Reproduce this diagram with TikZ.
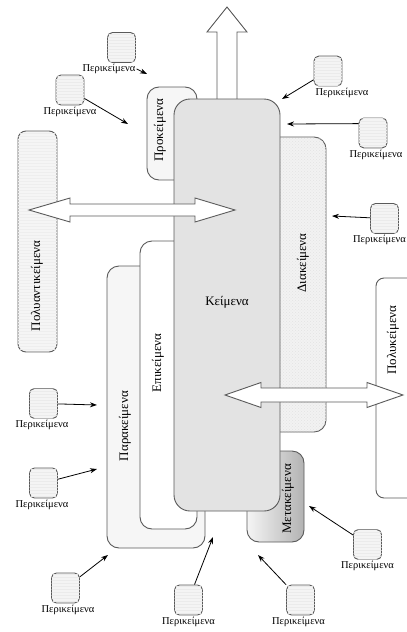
\documentclass[tikz,border=0pt]{standalone}
\usepackage{fontspec}
\setmainfont{Liberation Serif}
\usetikzlibrary{arrows.meta, positioning, patterns}

\definecolor{edge}{HTML}{5A5A5A}
\definecolor{keimfill}{HTML}{E3E3E3}
\definecolor{lightfill}{HTML}{F6F6F6}

\tikzstyle{layer} = [rectangle, rounded corners=12pt, draw=edge, line width=0.9pt, inner sep=0pt]
\tikzstyle{peri} = [rectangle, rounded corners=5pt, minimum width=28pt, minimum height=30pt, draw=edge, line width=0.9pt, fill=gray!9, postaction={pattern=horizontal lines, pattern color=gray!16}]
\tikzstyle{perilabel} = [font=\fontsize{10.5}{12}\selectfont, inner sep=1pt]
\tikzstyle{bigtext} = [font=\fontsize{13}{15}\selectfont]
\tikzstyle{sidetext} = [rotate=90, font=\fontsize{13}{15}\selectfont]
\tikzstyle{arrow} = [thick, -{Stealth[length=7pt, width=5pt]}]
\tikzstyle{blockarrow} = [draw=edge, fill=white, line width=0.9pt, line join=miter]

\begin{document}
\begin{tikzpicture}[x=1pt, y=-1pt]
	\clip (0,0) rectangle (407,632);
	% layers round the text
	\node (para) [layer, fill=lightfill, minimum width=98pt, minimum height=282pt] at (156,407) {};
	\node (epi) [layer, fill=white, minimum width=57pt, minimum height=288pt] at (168.5,385) {};
	\node (pro) [layer, fill=lightfill, minimum width=50pt, minimum height=93pt] at (172,133.5) {};
	\node (dia) [layer, fill=gray!10, postaction={pattern=crosshatch dots, pattern color=gray!22}, minimum width=66pt, minimum height=295pt] at (293,284.5) {};
	\node (meta) [layer, left color=gray!8, right color=gray!60, minimum width=57pt, minimum height=91pt] at (275.5,496.5) {};
	% block arrow out of the text
	\draw [blockarrow] (227,7) -- (247,32) -- (237,32) -- (237,105) -- (217,105) -- (217,32) -- (207,32) -- cycle;
	\node (keim) [layer, fill=keimfill, rounded corners=16pt, minimum width=106pt, minimum height=412pt] at (227,305) {};
	\node (polyanti) [layer, rounded corners=8pt, fill=gray!8, postaction={pattern=horizontal lines, pattern color=gray!13}, minimum width=39pt, minimum height=221pt] at (37.5,241.5) {};
	\node (poly) [layer, rounded corners=8pt, fill=white, minimum width=60pt, minimum height=220pt] at (406,388) {};

	\node (keimtext) [bigtext] at (227,302) {Κείμενα};
	\node (protext) [sidetext] at (160,130) {Προκείμενα};
	\node (diatext) [sidetext] at (303,263) {Διακείμενα};
	\node (epitext) [sidetext] at (158,363) {Επικείμενα};
	\node (paratext) [sidetext] at (125,426) {Παρακείμενα};
	\node (metatext) [sidetext] at (288,499) {Μετακείμενα};
	\node (polyantitext) [sidetext] at (37,286) {Πολυαντικείμενα};
	\node (polytext) [sidetext] at (393,340) {Πολυκείμενα};

	% two way block arrows
	\draw [blockarrow] (29,210) -- (70,198) -- (70,204) -- (195,204) -- (195,198) -- (235,210)
		-- (195,222) -- (195,216) -- (70,216) -- (70,222) -- cycle;
	\draw [blockarrow] (225,395) -- (261,382.5) -- (261,388) -- (367,388) -- (367,382.5) -- (403,395)
		-- (367,407.5) -- (367,402) -- (261,402) -- (261,407.5) -- cycle;

	% the surrounding texts
	\node (p1) [peri] at (121.5,47.5) {};
	\node (p2) [peri] at (70,90) {};
	\node (p3) [peri] at (328,71) {};
	\node (p4) [peri] at (373,133) {};
	\node (p5) [peri] at (384.5,218.5) {};
	\node (p6) [peri] at (43.5,403.5) {};
	\node (p7) [peri] at (43.5,483) {};
	\node (p8) [peri] at (65.5,588) {};
	\node (p9) [peri] at (188.5,600) {};
	\node (p10) [peri] at (300.5,600) {};
	\node (p11) [peri] at (367.5,544.5) {};

	\node (l1) [perilabel, below=0pt of p1, xshift=-12.5pt] {Περικείμενα};
	\node (l2) [perilabel, below=0pt of p2] {Περικείμενα};
	\node (l3) [perilabel, below=0pt of p3, xshift=14pt] {Περικείμενα};
	\node (l4) [perilabel, below=0pt of p4, xshift=3pt] {Περικείμενα};
	\node (l5) [perilabel, below=0pt of p5, xshift=-5pt] {Περικείμενα};
	\node (l6) [perilabel, below=0pt of p6, xshift=-1.5pt] {Περικείμενα};
	\node (l7) [perilabel, below=0pt of p7, xshift=-1.5pt] {Περικείμενα};
	\node (l8) [perilabel, below=0pt of p8, xshift=2.5pt] {Περικείμενα};
	\node (l9) [perilabel, below=0pt of p9] {Περικείμενα};
	\node (l10) [perilabel, below=0pt of p10, xshift=-2pt] {Περικείμενα};
	\node (l11) [perilabel, below=0pt of p11] {Περικείμενα};

	\coordinate (t1) at (147,74);
	\coordinate (t2) at (128,124);
	\coordinate (t3) at (282,99);
	\coordinate (t4) at (287,124);
	\coordinate (t5) at (332,216);
	\coordinate (t6) at (97,405);
	\coordinate (t7) at (97,469);
	\coordinate (t8) at (108,555);
	\coordinate (t9) at (213,537);
	\coordinate (t10) at (258,555);
	\coordinate (t11) at (309,506);

	\draw [arrow] (l1.east) -- (t1);
	\draw [arrow] (p2) -- (t2);
	\draw [arrow] (p3) -- (t3);
	\draw [arrow] (p4.147) -- (t4);
	\draw [arrow] (p5) -- (t5);
	\draw [arrow] (p6) -- (t6);
	\draw [arrow] (p7) -- (t7);
	\draw [arrow] (p8) -- (t8);
	\draw [arrow] (p9) -- (t9);
	\draw [arrow] (p10) -- (t10);
	\draw [arrow] (p11) -- (t11);
\end{tikzpicture}
\end{document}
